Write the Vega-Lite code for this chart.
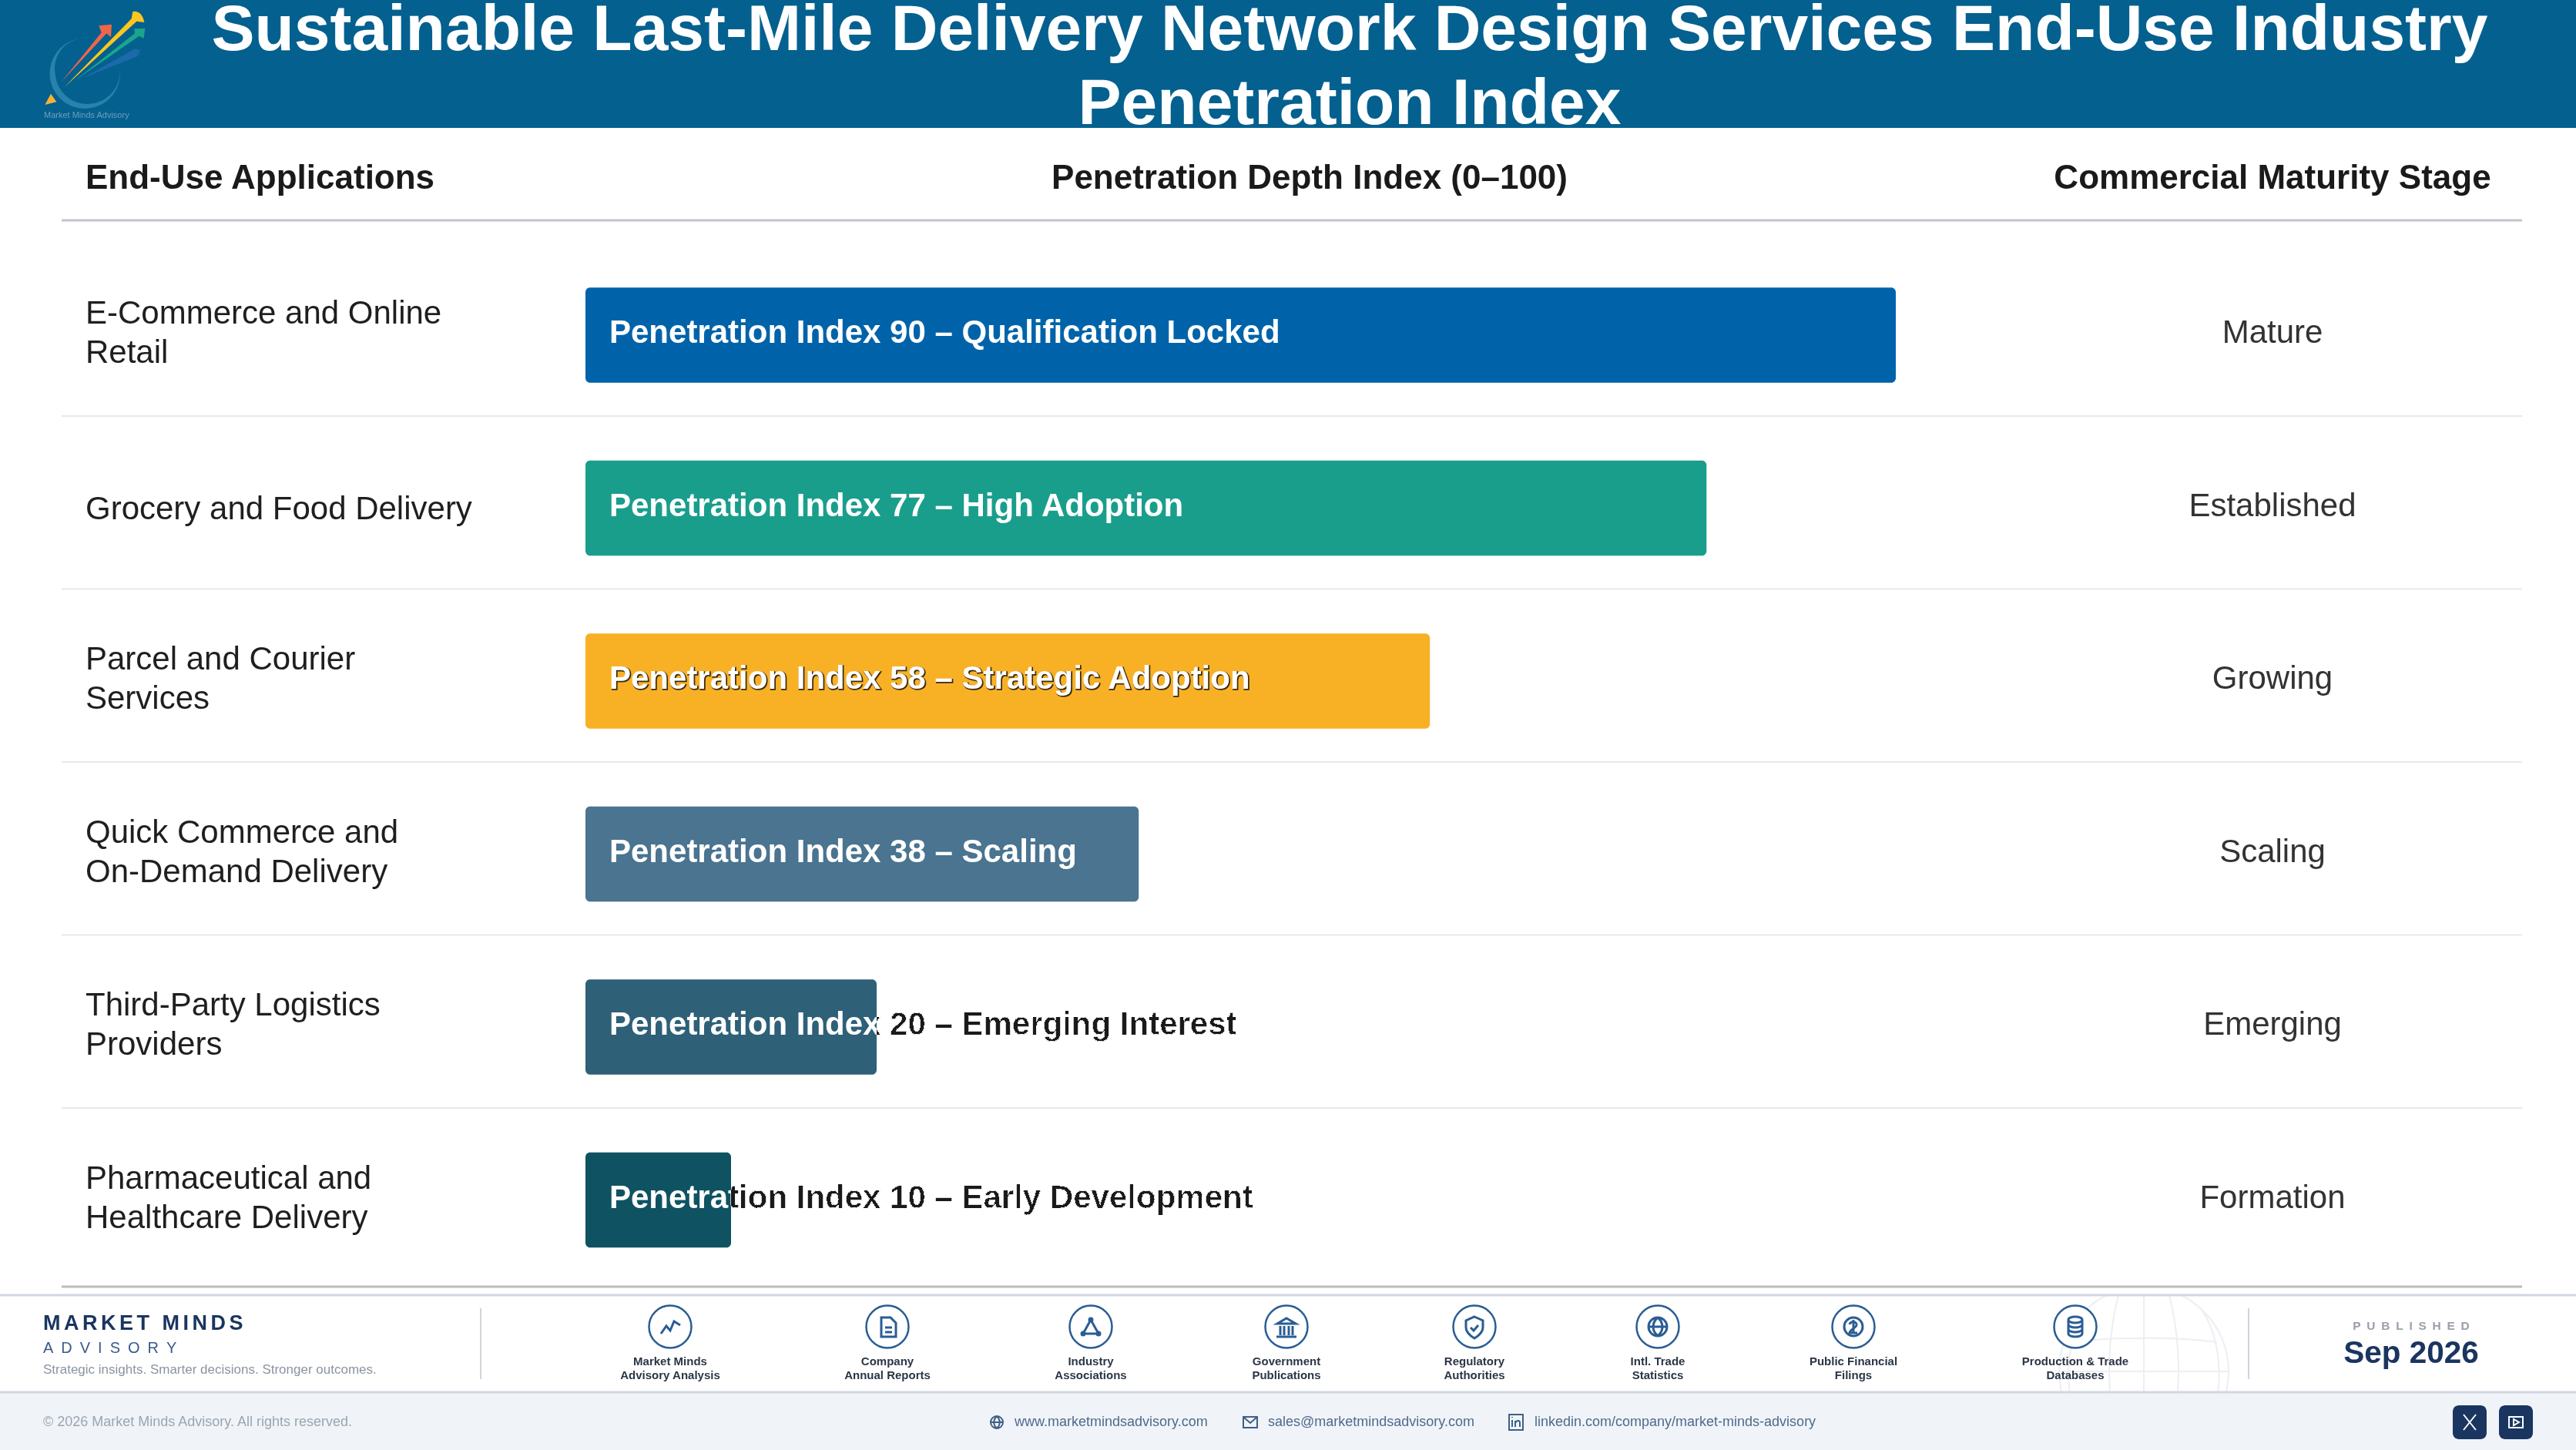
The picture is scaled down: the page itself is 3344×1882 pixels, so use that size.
{"$schema":"https://vega.github.io/schema/vega-lite/v6.json","autosize":{"type":"none"},"padding":0,"width":3344,"height":1882,"background":"#ffffff","config":{"view":{"stroke":null},"font":"Liberation Sans","text":{"font":"Liberation Sans"}},
"datasets":{"apps":[
{"application":"E-Commerce and Online Retail","line1":"E-Commerce and Online","line2":"Retail","index":90,"label":"Penetration Index 90 – Qualification Locked","stage":"Mature"},
{"application":"Grocery and Food Delivery","line1":"Grocery and Food Delivery","line2":"","index":77,"label":"Penetration Index 77 – High Adoption","stage":"Established"},
{"application":"Parcel and Courier Services","line1":"Parcel and Courier","line2":"Services","index":58,"label":"Penetration Index 58 – Strategic Adoption","stage":"Growing"},
{"application":"Quick Commerce and On-Demand Delivery","line1":"Quick Commerce and","line2":"On-Demand Delivery","index":38,"label":"Penetration Index 38 – Scaling","stage":"Scaling"},
{"application":"Third-Party Logistics Providers","line1":"Third-Party Logistics","line2":"Providers","index":20,"label":"Penetration Index 20 – Emerging Interest","stage":"Emerging"},
{"application":"Pharmaceutical and Healthcare Delivery","line1":"Pharmaceutical and","line2":"Healthcare Delivery","index":10,"label":"Penetration Index 10 – Early Development","stage":"Formation"}],
"sources":[
{"order":1,"source":"Market Minds\nAdvisory Analysis","icon":"trend"},
{"order":2,"source":"Company\nAnnual Reports","icon":"doc"},
{"order":3,"source":"Industry\nAssociations","icon":"network"},
{"order":4,"source":"Government\nPublications","icon":"bank"},
{"order":5,"source":"Regulatory\nAuthorities","icon":"shield"},
{"order":6,"source":"Intl. Trade\nStatistics","icon":"globe"},
{"order":7,"source":"Public Financial\nFilings","icon":"coin"},
{"order":8,"source":"Production & Trade\nDatabases","icon":"database"}],
"one":[{"item":"chrome"}]},
"layer":[
{"data":{"name":"one"},"mark":{"type":"point","filled":false,"size":4,"stroke":"#eceef2","strokeWidth":2,"opacity":1,"shape":"M-110 0A110 110 0 1 0 110 0A110 110 0 1 0 -110 0M0 -110V110M-110 0H110M-30 -110C-50 -40 -50 40 -30 110M30 -110C50 -40 50 40 30 110M-75 -80C-110 -30 -100 60 -75 80M75 -80C110 -30 100 60 75 80M-95 -38C-40 -45 40 -45 95 -38"},"encoding":{"x":{"value":2783},"y":{"value":1780}}},
{"data":{"name":"one"},"mark":{"type":"rect","color":"#ffffff"},"encoding":{"x":{"value":0},"x2":{"value":3344},"y":{"value":0},"y2":{"value":1681}}},
{"data":{"name":"one"},"mark":{"type":"rect","color":"#f0f4f8"},"encoding":{"x":{"value":0},"x2":{"value":3344},"y":{"value":1807},"y2":{"value":1882}}},
{"data":{"name":"one"},"mark":{"type":"rect","color":"#04608f"},"encoding":{"x":{"value":0},"x2":{"value":3344},"y":{"value":0},"y2":{"value":166}}},
{"data":{"values":[{"mark":"logo ring"}]},"mark":{"type":"point","filled":true,"size":0.4444,"fill":"#3088b0","opacity":0.85,"strokeWidth":0,"shape":"M240 137A137 137 0 1 0 347 255A118 118 0 0 1 95 272A118 118 0 0 1 240 137Z"},"encoding":{"x":{"value":40},"y":{"value":5}}},
{"data":{"values":[{"mark":"logo blue"}]},"mark":{"type":"point","filled":true,"size":0.4444,"fill":"#1a6ba8","opacity":1,"strokeWidth":0,"shape":"M200 290L405 175L428 180L415 205Z"},"encoding":{"x":{"value":40},"y":{"value":5}}},
{"data":{"values":[{"mark":"logo red"}]},"mark":{"type":"point","filled":true,"size":0.4444,"fill":"#f0654a","opacity":1,"strokeWidth":0,"shape":"M118 305L275 112L265 85L315 80L312 130L295 115Z"},"encoding":{"x":{"value":40},"y":{"value":5}}},
{"data":{"values":[{"mark":"logo green"}]},"mark":{"type":"point","filled":true,"size":0.4444,"fill":"#1ba589","opacity":1,"strokeWidth":0,"shape":"M170 300L405 115L403 97L445 95L440 135L422 125Z"},"encoding":{"x":{"value":40},"y":{"value":5}}},
{"data":{"values":[{"mark":"logo yellow"}]},"mark":{"type":"point","filled":true,"size":0.4444,"fill":"#ffc61e","opacity":1,"strokeWidth":0,"shape":"M130 325L392 58L397 30Q432 25 442 72L412 68Z"},"encoding":{"x":{"value":40},"y":{"value":5}}},
{"data":{"values":[{"mark":"logo tip"}]},"mark":{"type":"point","filled":true,"size":0.4444,"fill":"#f9b233","opacity":1,"strokeWidth":0,"shape":"M55 393L78 350L100 382Z"},"encoding":{"x":{"value":40},"y":{"value":5}}},
{"data":{"values":[{"text":"Market Minds Advisory"}]},"mark":{"type":"text","align":"left","baseline":"alphabetic","fontSize":11,"color":"#6f9fbd"},"encoding":{"text":{"field":"text"},"x":{"value":57},"y":{"value":153}}},
{"data":{"values":[{"text":"Sustainable Last-Mile Delivery Network Design Services End-Use Industry\nPenetration Index"}]},"mark":{"type":"text","align":"center","baseline":"alphabetic","fontSize":84,"fontWeight":"bold","color":"#ffffff","lineBreak":"\n","lineHeight":96},"encoding":{"text":{"field":"text"},"x":{"value":1752},"y":{"value":65}}},
{"data":{"values":[{"text":"End-Use Applications"}]},"mark":{"type":"text","align":"left","baseline":"alphabetic","fontSize":44,"fontWeight":"bold","color":"#1a1a1a"},"encoding":{"text":{"field":"text"},"x":{"value":111},"y":{"value":245}}},
{"data":{"values":[{"text":"Penetration Depth Index (0–100)"}]},"mark":{"type":"text","align":"center","baseline":"alphabetic","fontSize":44,"fontWeight":"bold","color":"#1a1a1a"},"encoding":{"text":{"field":"text"},"x":{"value":1700},"y":{"value":245}}},
{"data":{"values":[{"text":"Commercial Maturity Stage"}]},"mark":{"type":"text","align":"center","baseline":"alphabetic","fontSize":44,"fontWeight":"bold","color":"#1a1a1a"},"encoding":{"text":{"field":"text"},"x":{"value":2950},"y":{"value":245}}},
{"data":{"name":"one"},"mark":{"type":"rule","color":"#c4c4ce","strokeWidth":3},"encoding":{"x":{"value":80},"x2":{"value":3274},"y":{"value":286}}},
{"data":{"name":"one"},"mark":{"type":"rule","color":"#bdbdbd","strokeWidth":3},"encoding":{"x":{"value":80},"x2":{"value":3274},"y":{"value":1670}}},
{"data":{"name":"apps"},"layer":[
{"transform":[{"filter":"datum.index != 10"}],"mark":{"type":"rule","color":"#e8e8ea","strokeWidth":2,"yOffset":105},"encoding":{"x":{"value":80},"x2":{"value":3274},"y":{"field":"application"}}},
{"transform":[{"filter":"datum.line2 != ''"}],"mark":{"type":"text","align":"left","baseline":"middle","fontSize":42,"color":"#1f1f1f","dy":-28},"encoding":{"text":{"field":"line1"},"x":{"value":111},"y":{"field":"application"}}},
{"transform":[{"filter":"datum.line2 != ''"}],"mark":{"type":"text","align":"left","baseline":"middle","fontSize":42,"color":"#1f1f1f","dy":23},"encoding":{"text":{"field":"line2"},"x":{"value":111},"y":{"field":"application"}}},
{"transform":[{"filter":"datum.line2 == ''"}],"mark":{"type":"text","align":"left","baseline":"middle","fontSize":42,"color":"#1f1f1f","dy":1},"encoding":{"text":{"field":"line1"},"x":{"value":111},"y":{"field":"application"}}},
{"transform":[{"filter":"datum.index <= 20"}],"mark":{"type":"text","align":"left","baseline":"middle","fontSize":42,"fontWeight":"bold","color":"#000000","dx":31,"dy":-3},"encoding":{"text":{"field":"label"},"x":{"datum":0,"type":"quantitative"},"y":{"field":"application"}}},
{"mark":{"type":"bar","orient":"horizontal","cornerRadius":6,"height":{"band":0.55}},"encoding":{"x":{"field":"index","type":"quantitative","stack":null},"y":{"field":"application"},"color":{"field":"application","type":"nominal","legend":null,"scale":{"domain":["E-Commerce and Online Retail","Grocery and Food Delivery","Parcel and Courier Services","Quick Commerce and On-Demand Delivery","Third-Party Logistics Providers","Pharmaceutical and Healthcare Delivery"],"range":["#0063aa","#1a9e8c","#f8b125","#4a7490","#2e6078","#0f5363"]}}}},
{"transform":[{"filter":"datum.index == 58"}],"mark":{"type":"text","align":"left","baseline":"middle","fontSize":42,"fontWeight":"bold","color":"#3a2a10","stroke":"#3a2a10","strokeWidth":1.5,"dx":32,"dy":-2},"encoding":{"text":{"field":"label"},"x":{"datum":0,"type":"quantitative"},"y":{"field":"application"}}},
{"transform":[{"filter":"datum.index > 20"}],"mark":{"type":"text","align":"left","baseline":"middle","fontSize":42,"fontWeight":"bold","color":"#ffffff","dx":31,"dy":-3},"encoding":{"text":{"field":"label"},"x":{"datum":0,"type":"quantitative"},"y":{"field":"application"}}},
{"transform":[{"filter":"datum.index <= 20"}],"mark":{"type":"text","align":"left","baseline":"middle","fontSize":42,"fontWeight":"bold","color":"#ffffff","blend":"color-dodge","dx":31,"dy":-3},"encoding":{"text":{"field":"label"},"x":{"datum":0,"type":"quantitative"},"y":{"field":"application"}}},
{"transform":[{"filter":"datum.index <= 20"}],"mark":{"type":"rect","color":"#1a1a1a","blend":"lighten"},"encoding":{"x":{"field":"index","type":"quantitative"},"x2":{"datum":100},"y":{"field":"application"}}},
{"mark":{"type":"text","align":"center","baseline":"middle","fontSize":42,"color":"#333333","dy":-3},"encoding":{"text":{"field":"stage"},"x":{"value":2950},"y":{"field":"application"}}}
],"encoding":{"x":{"scale":{"domain":[0,100],"range":[760,2650]},"axis":null,"title":null},"y":{"type":"nominal","sort":null,"axis":null,"title":null,"scale":{"domain":["E-Commerce and Online Retail","Grocery and Food Delivery","Parcel and Courier Services","Quick Commerce and On-Demand Delivery","Third-Party Logistics Providers","Pharmaceutical and Healthcare Delivery"],"range":[322.75,1669.75],"paddingInner":0,"paddingOuter":0}}}},
{"data":{"name":"one"},"mark":{"type":"rule","color":"#d2d6e4","strokeWidth":3},"encoding":{"x":{"value":0},"x2":{"value":3344},"y":{"value":1681}}},
{"data":{"name":"one"},"mark":{"type":"rule","color":"#d2d6e4","strokeWidth":3},"encoding":{"x":{"value":0},"x2":{"value":3344},"y":{"value":1807}}},
{"data":{"name":"one"},"mark":{"type":"rule","color":"#d0d4dc","strokeWidth":2},"encoding":{"x":{"value":624},"y":{"value":1698},"y2":{"value":1790}}},
{"data":{"name":"one"},"mark":{"type":"rule","color":"#d0d4dc","strokeWidth":2},"encoding":{"x":{"value":2919},"y":{"value":1698},"y2":{"value":1790}}},
{"data":{"values":[{"text":"M\u2006A\u2006R\u2006K\u2006E\u2006T\u2006 \u2006M\u2006I\u2006N\u2006D\u2006S"}]},"mark":{"type":"text","align":"left","baseline":"alphabetic","fontSize":27,"fontWeight":"bold","color":"#1a3560"},"encoding":{"text":{"field":"text"},"x":{"value":56},"y":{"value":1726}}},
{"data":{"values":[{"text":"A\u2002D\u2002V\u2002I\u2002S\u2002O\u2002R\u2002Y"}]},"mark":{"type":"text","align":"left","baseline":"alphabetic","fontSize":20,"color":"#3a5a8c"},"encoding":{"text":{"field":"text"},"x":{"value":56},"y":{"value":1756}}},
{"data":{"values":[{"text":"Strategic insights. Smarter decisions. Stronger outcomes."}]},"mark":{"type":"text","align":"left","baseline":"alphabetic","fontSize":17,"color":"#8a94a0"},"encoding":{"text":{"field":"text"},"x":{"value":56},"y":{"value":1783}}},
{"data":{"name":"sources"},"layer":[
{"mark":{"type":"point","filled":true,"shape":"circle","size":3025,"fill":"#ffffff","stroke":"#2a5d94","strokeWidth":2.5,"opacity":1},"encoding":{"y":{"value":1722}}},
{"mark":{"type":"point","filled":false,"size":4,"strokeWidth":3,"stroke":"#2a5d94","opacity":1},"encoding":{"y":{"value":1722},"shape":{"field":"icon","type":"nominal","legend":null,"scale":{"domain":["trend","doc","network","bank","shield","globe","coin","database"],"range":["M-12 9L-5 -1L0 5L5 -7L13 -2","M-8 -12H4L11 -5V13H-8ZM-3 1H6M-3 7H6","M0 -9L-10 9H10ZM0 -11A2 2 0 1 0 0 -7A2 2 0 1 0 0 -11ZM-10 7A2 2 0 1 0 -10 11A2 2 0 1 0 -10 7ZM10 7A2 2 0 1 0 10 11A2 2 0 1 0 10 7Z","M-12 -4L0 -11L12 -4ZM-8 -1V11M-3 -1V11M3 -1V11M8 -1V11M-13 13H13","M0 -13L11 -8V1C11 8 5 12 0 15C-5 12 -11 8 -11 1V-8ZM-5 1L-1 5L5 -2","M-12 0A12 12 0 1 0 12 0A12 12 0 1 0 -12 0M-12 0H12M0 -12C-8 -5 -8 5 0 12M0 -12C8 -5 8 5 0 12","M-12 0A12 12 0 1 0 12 0A12 12 0 1 0 -12 0M-5 -3C-4 -8 5 -7 4 -2C3 2 -5 4 -5 8H5M0 -9V9","M-9 -9A9 4 0 1 0 9 -9A9 4 0 1 0 -9 -9M-9 -9V9A9 4 0 0 0 9 9V-9M-9 -3A9 4 0 0 0 9 -3M-9 3A9 4 0 0 0 9 3"]}}}},
{"mark":{"type":"text","align":"center","baseline":"alphabetic","fontSize":15,"fontWeight":"bold","color":"#2b3645","lineBreak":"\n","lineHeight":18},"encoding":{"text":{"field":"source"},"y":{"value":1772}}}
],"encoding":{"x":{"field":"order","type":"quantitative","axis":null,"title":null,"scale":{"domain":[1,2,3,4,5,6,7,8],"range":[870,1152,1416,1670,1914,2152,2406,2694],"zero":false,"nice":false}}}},
{"data":{"values":[{"text":"P\u2002U\u2002B\u2002L\u2002I\u2002S\u2002H\u2002E\u2002D"}]},"mark":{"type":"text","align":"center","baseline":"alphabetic","fontSize":15.5,"fontWeight":"bold","color":"#9aa0a8"},"encoding":{"text":{"field":"text"},"x":{"value":3130},"y":{"value":1726}}},
{"data":{"values":[{"text":"Sep 2026"}]},"mark":{"type":"text","align":"center","baseline":"alphabetic","fontSize":40.5,"fontWeight":"bold","color":"#1a3560"},"encoding":{"text":{"field":"text"},"x":{"value":3130},"y":{"value":1769}}},
{"data":{"values":[{"text":"© 2026 Market Minds Advisory. All rights reserved."}]},"mark":{"type":"text","align":"left","baseline":"alphabetic","fontSize":18,"color":"#9aa5b1"},"encoding":{"text":{"field":"text"},"x":{"value":56},"y":{"value":1851}}},
{"data":{"values":[{"text":"www.marketmindsadvisory.com"}]},"mark":{"type":"text","align":"left","baseline":"alphabetic","fontSize":18,"color":"#4e6a8c"},"encoding":{"text":{"field":"text"},"x":{"value":1317},"y":{"value":1851}}},
{"data":{"values":[{"text":"sales@marketmindsadvisory.com"}]},"mark":{"type":"text","align":"left","baseline":"alphabetic","fontSize":18,"color":"#4e6a8c"},"encoding":{"text":{"field":"text"},"x":{"value":1646},"y":{"value":1851}}},
{"data":{"values":[{"text":"linkedin.com/company/market-minds-advisory"}]},"mark":{"type":"text","align":"left","baseline":"alphabetic","fontSize":18,"color":"#4e6a8c"},"encoding":{"text":{"field":"text"},"x":{"value":1992},"y":{"value":1851}}},
{"data":{"name":"one"},"mark":{"type":"point","filled":false,"size":4,"strokeWidth":2,"stroke":"#3f5f85","opacity":1,"shape":"M-8 0A8 8 0 1 0 8 0A8 8 0 1 0 -8 0M-8 0H8M0 -8C-5 -3 -5 3 0 8M0 -8C5 -3 5 3 0 8"},"encoding":{"x":{"value":1294},"y":{"value":1846}}},
{"data":{"name":"one"},"mark":{"type":"point","filled":false,"size":4,"strokeWidth":2,"stroke":"#3f5f85","opacity":1,"shape":"M-9 -7H9V7H-9ZM-9 -7L0 1L9 -7"},"encoding":{"x":{"value":1623},"y":{"value":1846}}},
{"data":{"name":"one"},"mark":{"type":"point","filled":false,"size":4,"strokeWidth":2,"stroke":"#3f5f85","opacity":1,"shape":"M-9 -10H9V10H-9ZM-5 -3V6M-5 -7V-6M-1 6V-2M-1 1C1 -3 5 -3 5 1V6"},"encoding":{"x":{"value":1968},"y":{"value":1846}}},
{"data":{"name":"one"},"mark":{"type":"rect","color":"#1a3560","cornerRadius":8},"encoding":{"x":{"value":3184},"x2":{"value":3228},"y":{"value":1824},"y2":{"value":1868}}},
{"data":{"name":"one"},"mark":{"type":"rect","color":"#1a3560","cornerRadius":8},"encoding":{"x":{"value":3244},"x2":{"value":3288},"y":{"value":1824},"y2":{"value":1868}}},
{"data":{"name":"one"},"mark":{"type":"point","filled":false,"size":4,"strokeWidth":2,"stroke":"#ffffff","opacity":1,"shape":"M-8 -10L8 10M8 -10L-8 10"},"encoding":{"x":{"value":3206},"y":{"value":1846}}},
{"data":{"name":"one"},"mark":{"type":"point","filled":false,"size":4,"strokeWidth":2,"stroke":"#ffffff","opacity":1,"shape":"M-9 -7H9V7H-9ZM-3 -4V4L4 0Z"},"encoding":{"x":{"value":3266},"y":{"value":1846}}}
],"resolve":{"scale":{"x":"independent","y":"independent","shape":"independent","color":"independent"}}}
